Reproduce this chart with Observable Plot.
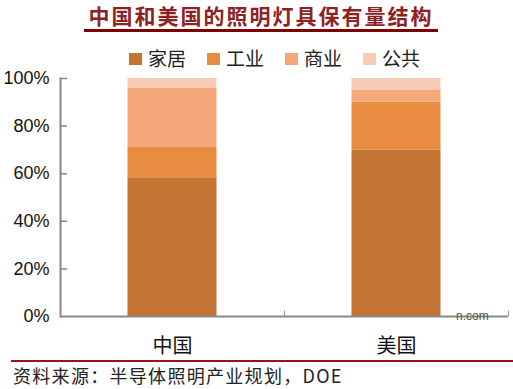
<!DOCTYPE html>
<html><head><meta charset="utf-8">
<script src="https://cdn.jsdelivr.net/npm/d3@7"></script>
<script src="https://cdn.jsdelivr.net/npm/@observablehq/plot@0.6"></script>
<style>
body{margin:0;background:#fff;}
#wrap{position:relative;width:513px;height:389px;overflow:hidden;background:#fff;font-family:"Noto Sans CJK SC",sans-serif;}
#title{position:absolute;left:80px;width:362px;top:2px;text-align:center;font-size:21px;font-weight:bold;color:#8E2222;letter-spacing:2px;line-height:26px;}
#uline{position:absolute;left:84px;width:354px;top:29px;height:3px;background:#800000;}
#legend{position:absolute;left:129px;top:44px;display:flex;align-items:center;height:26px;z-index:2;}
.li{display:flex;align-items:center;margin-right:21px;font-size:19px;color:#222;}
.sw{width:13px;height:12px;margin-right:6px;margin-top:4px;}
#plot{position:absolute;left:0;top:60px;z-index:1;}
#bline{position:absolute;left:11px;right:0;top:360px;height:2px;background:#8B1A1A;z-index:4;}
#src{position:absolute;left:13px;top:364px;font-size:18px;color:#222;line-height:22px;letter-spacing:1.3px;z-index:4;}
#wm{position:absolute;left:456px;top:309px;font-size:12px;color:#555;font-family:"Liberation Sans",Arial,sans-serif;z-index:3;}
</style></head>
<body>
<div id="wrap">
  <div id="title"></div>
  <div id="uline"></div>
  <div id="legend"></div>
  <div id="plot"></div>
  <div id="wm">n.com</div>
  <div id="bline"></div>
  <div id="src"></div>
</div>
<script>
const titleText = "中国和美国的照明灯具保有量结构";
const sourceText = "资料来源：半导体照明产业规划，DOE";
const countries = ["中国", "美国"];
const segments = ["家居", "工业", "商业", "公共"];
const colors = ["#C47533", "#E88C41", "#F5A97A", "#F8CBB5"];
const home = [58, 70];
const industry = [13, 20];
const commerce = [25, 5];
const publicUse = [4, 5];
const yTicks = [0, 20, 40, 60, 80, 100];

document.getElementById("title").textContent = titleText;
document.getElementById("src").textContent = sourceText;
const leg = document.getElementById("legend");
segments.forEach((s, i) => {
  const it = document.createElement("div"); it.className = "li";
  const sw = document.createElement("div"); sw.className = "sw"; sw.style.background = colors[i];
  const tx = document.createElement("span"); tx.textContent = s;
  it.appendChild(sw); it.appendChild(tx); leg.appendChild(it);
});

const series = [home, industry, commerce, publicUse];
const data = [];
countries.forEach((c, ci) => segments.forEach((s, si) => data.push({country: c, segment: s, value: series[si][ci]})));

const chart = Plot.plot({
  width: 513, height: 302,
  marginLeft: 60, marginRight: 5, marginTop: 18, marginBottom: 46,
  style: {fontFamily: "Liberation Sans, Arial, sans-serif", background: "transparent"},
  x: {domain: countries, padding: 0, label: null},
  y: {domain: [0, 100], label: null},
  color: {domain: segments, range: colors},
  marks: [
    Plot.barY(data, Plot.stackY({x: "country", y: "value", fill: "segment", order: segments, insetLeft: 67.5, insetRight: 67.5})),
    Plot.ruleX(countries, {x: d => d, dx: 112, y1: 0, y2: 2.3, stroke: "#999", strokeWidth: 1}),
    Plot.ruleY([0], {stroke: "#888", strokeWidth: 2}),
    Plot.frame({anchor: "left", stroke: "#888", strokeWidth: 2}),
    Plot.vector(yTicks.slice(1), {y: d => d, frameAnchor: "left", rotate: 90, length: 6, anchor: "start", shape: {draw(ctx, l) { ctx.moveTo(0, 0); ctx.lineTo(0, -l); }}, stroke: "#888", strokeWidth: 1.5}),
    Plot.axisY({ticks: yTicks, tickSize: 0, tickPadding: 11, tickFormat: d => d + "%", fontSize: 18, fill: "#111"}),
    Plot.axisX({tickSize: 0, tickPadding: 22, fontSize: 20, fill: "#111", fontFamily: "Noto Sans CJK SC"})
  ]
});
document.getElementById("plot").appendChild(chart);
</script>
</body></html>
